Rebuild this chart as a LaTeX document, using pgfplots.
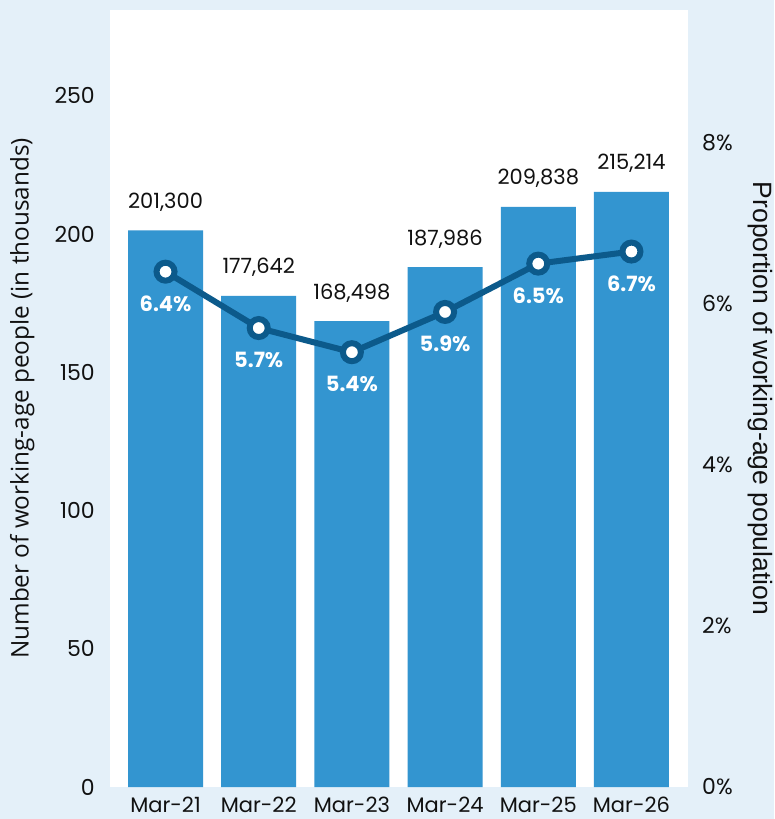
\documentclass[border=0pt]{standalone}
\usepackage{pgfplots}
\usepackage{pgfplotstable}
\pgfplotsset{compat=1.18}
\usepackage{fontspec}
\setmainfont{Poppins}
\newfontfamily\lfont{Open Sans}
\newfontfamily\rfont{Liberation Sans}
\definecolor{bg}{HTML}{E4F0F9}
\definecolor{barc}{HTML}{3395D0}
\definecolor{linec}{HTML}{0C5A8B}
\definecolor{txt}{HTML}{111111}
\pgfplotstableread{
x y lab
0 201.300 201,300
1 177.642 177,642
2 168.498 168,498
3 187.986 187,986
4 209.838 209,838
5 215.214 215,214
}\bars
\pgfplotstableread{
x y lab
0 6.4 6.4
1 5.7 5.7
2 5.4 5.4
3 5.9 5.9
4 6.5 6.5
5 6.65 6.7
}\share
\begin{document}
\begin{tikzpicture}
\fill[bg] (-110pt,-32pt) rectangle (664pt,787pt);
\begin{axis}[
  at={(0,0)}, anchor=south west,
  scale only axis, width=578pt, height=777pt,
  xmin=-0.596, xmax=5.607, ymin=0, ymax=281,
  axis background/.style={fill=white},
  axis line style={draw=none},
  major tick length=0pt,
  /pgf/number format/assume math mode=true,
  font=\fontsize{22}{22}\selectfont,
  xtick={0,...,5},
  xticklabels={Mar-21,Mar-22,Mar-23,Mar-24,Mar-25,Mar-26},
  xticklabel style={anchor=base, inner sep=0pt, yshift=-25.5pt, text=txt, font=\fontsize{21}{21}\selectfont},
  ytick={0,50,...,250},
  yticklabel style={anchor=east, inner sep=0pt, xshift=-15pt, text=txt},
  ylabel={Number of working-age people (in thousands)},
  ylabel style={at={(axis description cs:-0.152,0.5)}, anchor=center, text=txt, font=\lfont\fontsize{24.3}{24.3}\selectfont},
  clip=false,
]
\addplot[ybar, bar width=75pt, fill=barc, draw=none,
  point meta=explicit symbolic,
  nodes near coords,
  every node near coord/.style={anchor=base, inner sep=0pt, yshift=22pt, text=txt, font=\fontsize{21}{21}\selectfont}
] table[x=x, y=y, meta=lab] {\bars};
\end{axis}
\begin{axis}[
  at={(0,0)}, anchor=south west,
  scale only axis, width=578pt, height=777pt,
  xmin=-0.596, xmax=5.607, ymin=0, ymax=9.65,
  axis line style={draw=none},
  major tick length=0pt,
  /pgf/number format/assume math mode=true,
  font=\fontsize{22}{22}\selectfont,
  xtick=\empty,
  ytick={0,2,4,6,8},
  yticklabel pos=right,
  yticklabel={\pgfmathprintnumber{\tick}\%},
  yticklabel style={anchor=west, inner sep=0pt, xshift=14pt, text=txt},
  ylabel={Proportion of working-age population},
  ylabel style={at={(axis description cs:1.1246,0.5)}, anchor=center, rotate=180, text=txt, font=\rfont\fontsize{26.5}{26.5}\selectfont},
  clip=false,
]
\addplot[linec, line width=6pt, mark=*, mark size=9pt,
  mark options={fill=white, draw=linec, line width=6pt},
  point meta=explicit,
  nodes near coords={\pgfmathprintnumber[fixed,precision=1,fixed zerofill]{\pgfplotspointmeta}\%},
  every node near coord/.style={anchor=center, inner sep=0pt, yshift=-32pt, text=white, font=\fontsize{21}{21}\selectfont\bfseries}
] table[x=x, y=y, meta=lab] {\share};
\end{axis}
\pgfresetboundingbox
\useasboundingbox (-110pt,-32pt) rectangle (664pt,787pt);
\end{tikzpicture}
\end{document}
